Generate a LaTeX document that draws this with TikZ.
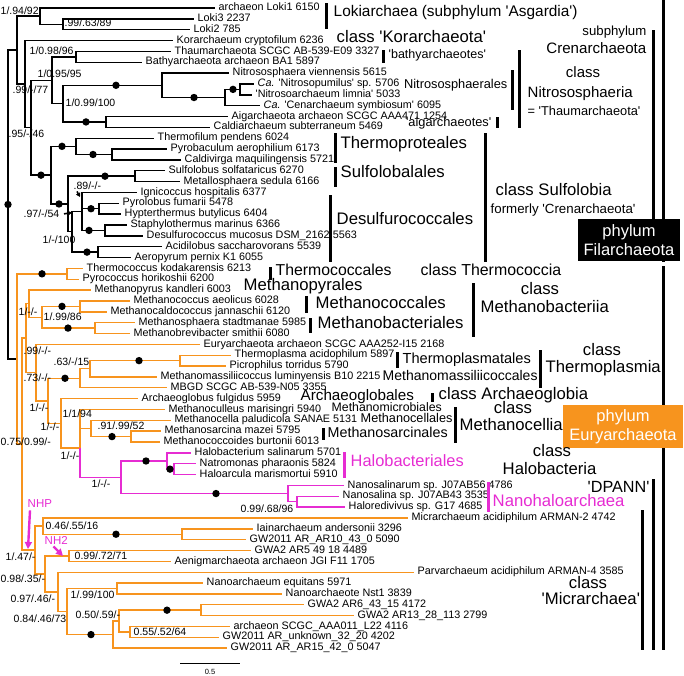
\documentclass[tikz,border=0pt]{standalone}
\usepackage{fontspec}
\setmainfont{Liberation Sans}
\usepackage{xcolor}
\usetikzlibrary{arrows.meta}
\definecolor{euryorange}{HTML}{F7941E}
\definecolor{halomagenta}{HTML}{E62CD2}
\newcommand{\sq}{\textquotesingle}
\newcommand{\rowy}[1]{(8+10.85*(#1-1))}

\begin{document}
\begin{tikzpicture}[x=1pt, y=-1pt, line width=1.4pt,
  leaf/.style={anchor=mid west, inner sep=0pt, font=\fontsize{10.8}{12}\selectfont},
  supp/.style={anchor=mid west, inner sep=0pt, font=\fontsize{10.5}{12}\selectfont},
  taxon/.style={inner sep=0pt, font=\fontsize{16.7}{19}\selectfont},
  smalltaxon/.style={inner sep=0pt, font=\fontsize{12.8}{14}\selectfont},
  bar/.style={line width=3pt},
  mk/.style={-{Triangle[length=4pt,width=4.5pt]}, line width=1.6pt},
  flag/.style={halomagenta, line width=2.4pt, -{Triangle[length=7pt,width=7pt]}},
  phylumbox/.style={inner sep=0pt, align=center, font=\fontsize{16.5}{19}\selectfont, text=white}]
\useasboundingbox (0,0) rectangle (684,675);
% ---------- tips and their labels ----------
\foreach \n/\x/\rw/\txt in {
  loki1/215/1/archaeon Loki1 6150, loki3/194/2/Loki3 2237, loki2/190/3/Loki2 785,
  korar/173/4/Korarchaeum cryptofilum 6236, thaum/171/5/Thaumarchaeota SCGC AB-539-E09 3327,
  bathy/142/6/Bathyarchaeota archaeon BA1 5897, nvien/229/7/Nitrososphaera viennensis 5615,
  npumi/254/8/\textit{Ca.} \sq{}Nitrosopumilus\sq{} sp. 5706, nlimn/252/9/\sq{}Nitrosoarchaeum limnia\sq{} 5033,
  cenar/260/10/\textit{Ca.} \sq{}Cenarchaeum symbiosum\sq{} 6095, aigar/228/11/Aigarchaeota archaeon SCGC AAA471 1254,
  caldi/210/12/Caldiarchaeum subterraneum 5469, tfile/154/13/Thermofilum pendens 6024,
  pyrob/167/14/Pyrobaculum aerophilium 6173, caldv/181/15/Caldivirga maquilingensis 5721,
  sulfs/165/16/Sulfolobus solfataricus 6270, metal/180/17/Metallosphaera sedula 6166,
  ignic/137/18/Ignicoccus hospitalis 6377, pyrol/119/19/Pyrolobus fumarii 5478,
  hypte/121/20/Hypterthermus butylicus 6404, staph/127/21/Staphylothermus marinus 6366,
  desmu/143/22/Desulfurococcus mucosus DSM\_2162 5563, acidi/162/23/Acidilobus saccharovorans 5539,
  aerop/131/24/Aeropyrum pernix K1 6055, tkoda/83/25/Thermococcus kodakarensis 6213,
  pyroc/79/26/Pyrococcus horikoshii 6200, mkand/91/27/Methanopyrus kandleri 6003,
  maeol/130/28/Methanococcus aeolicus 6028, mjann/107/29/Methanocaldococcus jannaschii 6120,
  mstad/135/30/Methanosphaera stadtmanae 5985, msmit/130/31/Methanobrevibacter smithii 6080,
  esc252/200/32/Euryarchaeota archaeon SCGC AAA252-I15 2168, tacid/231/33/Thermoplasma acidophilum 5897,
  ptorr/226/34/Picrophilus torridus 5790, mlumi/157/35/Methanomassiliicoccus luminyensis B10 2215,
  mbgd/167/36/MBGD SCGC AB-539-N05 3355, afulg/138/37/Archaeoglobus fulgidus 5959,
  mmari/165/38/Methanoculleus marisingri 5940, mpalu/171/39/Methanocella paludicola SANAE 5131,
  mmaze/161/40/Methanosarcina mazei 5795, mburt/160/41/Methanococcoides burtonii 6013,
  hsali/191/42/Halobacterium salinarum 5701, nphar/196/43/Natromonas pharaonis 5824,
  hmari/196/44/Haloarcula marismortui 5910, nsrum/344/45/Nanosalinarum sp. J07AB56 4786,
  nsina/339/46/Nanosalina sp. J07AB43 3535, hredi/345/47/Haloredivivus sp. G17 4685,
  micar/408/48/Micrarchaeum acidiphilum ARMAN-2 4742, iaina/253/49/Iainarchaeum andersonii 3296,
  gw10/246/50/GW2011 AR\_AR10\_43\_0 5090, gwa5/251/51/GWA2 AR5 49 18 4489,
  aenig/171/52/Aenigmarchaeota archaeon JGI F11 1705, parva/414/53/Parvarchaeum acidiphilum ARMAN-4 3585,
  nequi/203/54/Nanoarchaeum equitans 5971, nanst/282/55/Nanoarchaeote Nst1 3839,
  gwa6/304/56/GWA2 AR6\_43\_15 4172, gwa13/354/57/GWA2 AR13\_28\_113 2799,
  l22/230/58/archaeon SCGC\_AAA011\_L22 4116, gwunk/219/59/GW2011 AR\_unknown\_32\_20 4202,
  gw15/227/60/GW2011 AR\_AR15\_42\_0 5047}{
  \coordinate (\n) at (\x,{\rowy{\rw}});
  \node[leaf] (\n-lab) at ([xshift=3pt]\n) {\txt};
}
% ---------- inner nodes ----------
\foreach \n/\x/\y in {root/8/204.5, filar/17/50.13, asgar/40/16.14, lok23/63/24.28,
  korcl/25/84.12, crenl/31/127.69, thnit/52/80.22, thbat/76/56.83, nitag/63/103.62,
  nsph/162/85.31, nsph3/225/97.51, nsph4/240/89.38, aigcl/106/121.93, sulcl/51/175.16,
  tprot/76/146.34, tprt2/112/154.48, sudes/68/203.98, sulfl/135/176.18, desul/72/231.78,
  desu1/82/211.44, pyhyp/99/208.73, stdes/105/230.43, acaer/98/252.13,
  euryn/17/358.94, tcocc/67/273.83, eurdp/22/444.06, eurmn/26/338.12, mpycl/29/303.66,
  mcmbc/42/317.23, mcocl/80/306.38, mbacl/95/328.08, euryb/36/372.58, euryc/48/400.8,
  tplm1/80/378.26, tplm2/90/368.76, tplm3/180/360.63, agmh/61/423.35, mehal/80/448.1,
  mmicr/80/418.95, mcell/91/428.44, msarc/131/436.58, halo/121/477.26, halbc/167/460.99,
  halb2/174/469.13, nhalo/288/493.54, nhal2/297/501.68,
  dpann/35/550.0, micrc/43/526.09, iaicl/182/534.23, nh2cl/45/573.9, aencl/69/555.93,
  parcl/58/591.87, nancl/67/611.53, nanqc/117/588.48, nanq2/113/634.59, gwa2q/119/621.03,
  gwa2c/201/610.18, l22cl/130/631.88}
  \coordinate (\n) at (\x,\y);
% ---------- branches ----------
\foreach \u/\v in {root/filar, root/euryn, filar/asgar, filar/korcl, asgar/loki1, asgar/lok23,
  lok23/loki3, lok23/loki2, korcl/korar, korcl/crenl, crenl/thnit, crenl/sulcl, thnit/thbat,
  thnit/nitag, thbat/thaum, thbat/bathy, nitag/nsph, nitag/aigcl, nsph/nvien, nsph/nsph3,
  nsph3/nsph4, nsph3/cenar, nsph4/npumi, nsph4/nlimn, aigcl/aigar, aigcl/caldi, sulcl/tprot,
  sulcl/sudes, tprot/tfile, tprot/tprt2, tprt2/pyrob, tprt2/caldv, sudes/sulfl, sudes/desul,
  sulfl/sulfs, sulfl/metal, desul/desu1, desul/acaer, desu1/ignic, desu1/pyhyp, desu1/stdes,
  pyhyp/pyrol, pyhyp/hypte, stdes/staph, stdes/desmu, acaer/acidi, acaer/aerop}
  \draw (\u) |- (\v);
\foreach \u/\v in {euryn/tcocc, euryn/eurdp, tcocc/tkoda, tcocc/pyroc, eurdp/eurmn, eurdp/dpann,
  eurmn/mpycl, eurmn/euryb, mpycl/mkand, mpycl/mcmbc, mcmbc/mcocl, mcmbc/mbacl, mcocl/maeol,
  mcocl/mjann, mbacl/mstad, mbacl/msmit, euryb/esc252, euryb/euryc, euryc/tplm1, euryc/agmh,
  tplm1/tplm2, tplm1/mbgd, tplm2/tplm3, tplm2/mlumi, tplm3/tacid, tplm3/ptorr, agmh/afulg,
  agmh/mehal, mehal/mmicr, mmicr/mmari, mmicr/mcell, mcell/mpalu, mcell/msarc, msarc/mmaze,
  msarc/mburt, dpann/micrc, dpann/nh2cl, micrc/micar, micrc/iaicl, iaicl/iaina, iaicl/gw10,
  nh2cl/aencl, nh2cl/parcl, aencl/gwa5, aencl/aenig, parcl/parva, parcl/nancl, nancl/nanqc,
  nancl/nanq2, nanqc/nequi, nanqc/nanst, nanq2/gwa2q, nanq2/gw15, gwa2q/gwa2c, gwa2q/l22cl,
  gwa2c/gwa6, gwa2c/gwa13, l22cl/l22, l22cl/gwunk}
  \draw[euryorange] (\u) |- (\v);
\foreach \u/\v in {mehal/halo, halo/halbc, halo/nhalo, halbc/hsali, halbc/halb2, halb2/nphar,
  halb2/hmari, nhalo/nsrum, nhalo/nhal2, nhal2/nsina, nhal2/hredi}
  \draw[halomagenta] (\u) |- (\v);
% dots on well supported branches
\foreach \x/\y in {8/204.5, 116/85.31, 194/97.51, 233/89.38, 86/121.93, 41/175.16, 62/146.34,
  93/154.48, 59/203.98, 105/176.18, 91/208.73, 89/230.43, 87/252.13, 42/273.83, 62/306.38,
  68/328.08, 139/360.63, 65/378.26, 112/436.58, 146/460.99, 170/469.13, 216/493.54,
  116/534.23, 167/610.18, 91/634.59}
  \fill (\x,\y) circle (3.7);
% ---------- support values ----------
\node[supp] (sp1) at (0,12) {1/.94/92};
\node[supp] (sp2) at (64,24) {.99/.63/89};
\node[supp] (sp3) at (29,52) {1/0.98/96};
\node[supp] (sp4) at (37,75) {1/0.95/95};
\node[supp] (sp5) at (12,91) {.99/-/77};
\node[supp] (sp6) at (65,104) {1/0.99/100};
\node[supp] (sp7) at (8,135) {.95/-/46};
\node[supp] (sp8) at (73,187) {.89/-/-};
\node[supp] (sp9) at (23,215) {.97/-/54};
\node[supp] (sp10) at (42,241) {1/-/100};
\node[supp] (sp11) at (18,313) {1/-/-};
\node[supp] (sp12) at (43,318) {1/.99/86};
\node[supp] (sp13) at (23,352) {.99/-/-};
\node[supp] (sp14) at (53,363) {.63/-/15};
\node[supp] (sp15) at (23,379) {.73/-/-};
\node[supp] (sp16) at (29,409) {1/-/-};
\node[supp] (sp17) at (62,415) {1/1/94};
\node[supp] (sp18) at (40,428) {1/-/-};
\node[supp] (sp19) at (97,427) {.91/.99/52};
\node[supp] (sp20) at (0,443) {0.75/0.99/-};
\node[supp] (sp21) at (60,457) {1/-/-};
\node[supp] (sp22) at (91,485) {1/-/-};
\node[supp] (sp23) at (240,510) {0.99/.68/96};
\node[supp] (sp24) at (45,527) {0.46/.55/16};
\node[supp] (sp25) at (5,558) {1/.47/-};
\node[supp] (sp26) at (74,557) {0.99/.72/71};
\node[supp] (sp27) at (0,580) {0.98/.35/-};
\node[supp] (sp28) at (10,600) {0.97/.46/-};
\node[supp] (sp29) at (70,596) {1/.99/100};
\node[supp] (sp30) at (13,620) {0.84/.46/73};
\node[supp] (sp31) at (75,616) {0.50/.59/-};
\node[supp] (sp32) at (133,633) {0.55/.52/64};
\coordinate (mk9) at (72,212.5);
\coordinate (mk8) at (80,197);
\draw[mk] ([xshift=4pt]sp9.east) -- (mk9);
\draw[mk] ([xshift=4pt,yshift=-1pt]sp8.south west) -- (mk8);
% ---------- NHP / NH2 flags ----------
\node[inner sep=0pt, anchor=mid west, text=halomagenta, font=\fontsize{11.5}{13}\selectfont] (nhp) at (27,505) {NHP};
\node[inner sep=0pt, anchor=mid west, text=halomagenta, font=\fontsize{11.5}{13}\selectfont] (nh2) at (44,542) {NH2};
\coordinate (nhpend) at (28,549);
\coordinate (nh2end) at (63,556);
\draw[flag] ([xshift=3pt,yshift=-2pt]nhp.south west) -- (nhpend);
\draw[flag] ([xshift=-15pt,yshift=-1pt]nh2.south east) -- (nh2end);
% ---------- bars ----------
\foreach \x/\ya/\yb in {326/3/29, 383/50/63, 512/70/110, 497/117/128, 519/50/128, 653/30/258,
  663/0/262, 335/133/163, 335/167/187, 330/195/262, 485/133/262, 270/267/280, 306/296/313,
  310/318/333, 473/283/337, 397/352/368, 540/350/388, 432/393/402, 323/428/440, 455/407/443,
  642/510/650, 653/479/650, 663/266/650}
  \draw[bar] (\x,\ya) -- (\x,\yb);
\foreach \x/\ya/\yb in {344/452/478, 488/482/512}
  \draw[bar, halomagenta] (\x,\ya) -- (\x,\yb);
% ---------- taxon names ----------
\node[taxon, font=\fontsize{15.4}{17}\selectfont, anchor=mid west] (lokit) at (333,14) {Lokiarchaea (subphylum \sq{}Asgardia\sq{})};
\node[taxon, anchor=mid west] (kort) at (336,40) {class \sq{}Korarchaeota\sq{}};
\node[smalltaxon, font=\fontsize{12.5}{14}\selectfont, anchor=mid west] (batht) at (388,56) {\sq{}bathyarchaeotes\sq{}};
\node[smalltaxon, font=\fontsize{13.2}{15}\selectfont, anchor=mid east] (subph) at (647,33) {subphylum};
\node[taxon, font=\fontsize{15.1}{17}\selectfont, anchor=mid east] (crent) at (647,51) {Crenarchaeota};
\node[smalltaxon, anchor=mid east] (nitrt) at (508,86) {Nitrososphaerales};
\node[taxon, font=\fontsize{15}{17}\selectfont, anchor=mid] (nitcc) at (583,75) {class};
\node[taxon, font=\fontsize{15}{17}\selectfont, anchor=mid west] (nitcn) at (527,95) {Nitrososphaeria};
\node[smalltaxon, anchor=mid west] (thaumt) at (527,113) {= \sq{}Thaumarchaeota\sq{}};
\node[smalltaxon, anchor=mid east] (aigt) at (492,124) {\sq{}aigarchaeotes\sq{}};
\node[taxon, anchor=mid west] (tprt) at (340,146) {Thermoproteales};
\node[taxon, anchor=mid west] (sulft) at (340,175) {Sulfolobalales};
\node[taxon, anchor=mid west] (dest) at (336,222) {Desulfurococcales};
\node[taxon, anchor=mid west] (sulcn) at (495,193) {class Sulfolobia};
\node[smalltaxon, font=\fontsize{13.3}{15}\selectfont, anchor=mid west] (formt) at (490,211) {formerly \sq{}Crenarchaeota\sq{}};
\node[phylumbox, fill=black, minimum width=102pt, minimum height=42pt] (filbox) at (629,240) {phylum\\Filarchaeota};
\node[taxon, font=\fontsize{15.8}{17}\selectfont, anchor=mid west] (tcct) at (275,273) {Thermococcales};
\node[taxon, font=\fontsize{15.9}{17}\selectfont, anchor=mid west] (tccn) at (420,273) {class Thermococcia};
\node[taxon, anchor=mid west] (mpyt) at (243,288) {Methanopyrales};
\node[taxon, anchor=mid west] (mcct) at (315,306) {Methanococcales};
\node[taxon, anchor=mid west] (mbct) at (317,326) {Methanobacteriales};
\node[taxon, anchor=mid] (mbcc) at (540,292) {class};
\node[taxon, anchor=mid west] (mbcn) at (480,310) {Methanobacteriia};
\node[taxon, font=\fontsize{14.6}{16}\selectfont, anchor=mid west] (tplt) at (402,361) {Thermoplasmatales};
\node[taxon, font=\fontsize{14}{16}\selectfont, anchor=mid west] (mmst) at (382,378) {Methanomassiliicoccales};
\node[taxon, anchor=mid] (tplc) at (602,353) {class};
\node[taxon, anchor=mid west] (tpln) at (545,370) {Thermoplasmia};
\node[taxon, font=\fontsize{15.2}{17}\selectfont, anchor=mid west] (agt) at (300,398) {Archaeoglobales};
\node[taxon, anchor=mid west] (agc) at (438,397) {class Archaeoglobia};
\node[smalltaxon, font=\fontsize{12.3}{14}\selectfont, anchor=mid west] (mmit) at (331,409) {Methanomicrobiales};
\node[smalltaxon, font=\fontsize{12.7}{14}\selectfont, anchor=mid west] (mcet) at (360,420) {Methanocellales};
\node[taxon, font=\fontsize{14.3}{16}\selectfont, anchor=mid west] (msat) at (327,435) {Methanosarcinales};
\node[taxon, anchor=mid] (mcec) at (513,411) {class};
\node[taxon, anchor=mid west] (mcen) at (459,428) {Methanocellia};
\node[phylumbox, fill=euryorange, minimum width=120pt, minimum height=43pt] (eurbox) at (623,426.5) {phylum\\Euryarchaeota};
\node[taxon, text=halomagenta, font=\fontsize{16.4}{18}\selectfont, anchor=mid west] (hbt) at (350,464) {Halobacteriales};
\node[taxon, anchor=mid] (hbc) at (552,454) {class};
\node[taxon, anchor=mid west] (hbn) at (502,472) {Halobacteria};
\node[taxon, text=halomagenta, anchor=mid west] (nhat) at (492,504) {Nanohaloarchaea};
\node[taxon, font=\fontsize{16.2}{18}\selectfont, anchor=mid west] (dpt) at (587,490) {\sq{}DPANN\sq{}};
\node[taxon, anchor=mid] (micc) at (588,586) {class};
\node[taxon, anchor=mid west] (micn) at (541,602) {\sq{}Micrarchaea\sq{}};
% ---------- scale ----------
\coordinate (sb1) at (180,663);
\coordinate (sb2) at (240,663);
\draw[line width=0.8pt] (sb1) -- (sb2);
\node[inner sep=0pt, font=\fontsize{7.5}{8}\selectfont] (sbl) at (210,672) {0.5};
\end{tikzpicture}
\end{document}
